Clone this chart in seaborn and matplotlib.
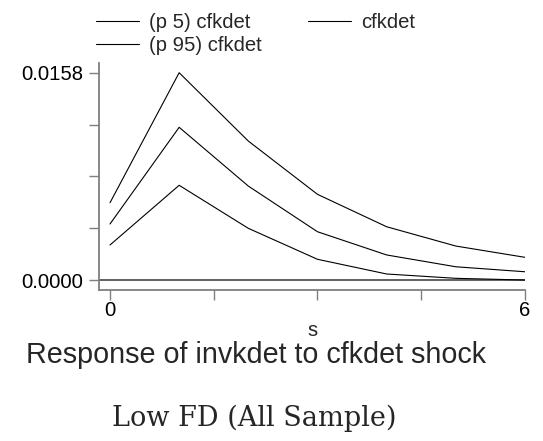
import matplotlib
matplotlib.use("Agg")
import matplotlib.pyplot as plt
import seaborn as sns
import pandas as pd

# Impulse response of invkdet to a cfkdet shock, steps 0..6
steps = [0, 1, 2, 3, 4, 5, 6]
irf_p5 = [0.00267, 0.00722, 0.00394, 0.00158, 0.00046, 0.00013, 0.00000]
irf_mid = [0.00427, 0.01164, 0.00716, 0.00368, 0.00191, 0.00101, 0.00063]
irf_p95 = [0.00589, 0.01580, 0.01059, 0.00653, 0.00406, 0.00259, 0.00173]

series_names = ["(p 5) cfkdet", "(p 95) cfkdet", "cfkdet"]
ytick_vals = [0.0, 0.0158]
ytick_labels = ["0.0000", "0.0158"]
xtick_vals = [0, 6]

df = pd.concat([
    pd.DataFrame({"s": steps, "value": irf_p5, "series": series_names[0]}),
    pd.DataFrame({"s": steps, "value": irf_p95, "series": series_names[1]}),
    pd.DataFrame({"s": steps, "value": irf_mid, "series": series_names[2]}),
])

sns.set_theme(style="white")
plt.rcParams["font.family"] = ["Liberation Sans", "DejaVu Sans"]

W, H = 543, 441
fig = plt.figure(figsize=(W / 100, H / 100), dpi=100)
ax = fig.add_axes([99 / W, 1 - 290 / H, (525 - 99) / W, (290 - 63) / H])

ax.axhline(0, color="#555555", lw=1.3, zorder=1)
sns.lineplot(data=df, x="s", y="value", hue="series", hue_order=series_names,
             palette=["black"] * 3, linewidth=0.8, ax=ax, legend=False, zorder=3)

ax.set_xlim(-0.159, 6)
ax.set_ylim(-0.00076, 0.01654)

ax.set_yticks([i * 0.0158 / 4 for i in range(5)], minor=True)
ax.set_yticks(ytick_vals)
ax.set_yticklabels(ytick_labels)
ax.set_xticks([0, 1.5, 3, 4.5, 6], minor=True)
ax.set_xticks(xtick_vals)
ax.set_xticklabels([str(v) for v in xtick_vals])

spine_col = "#7f7f7f"
for side in ["top", "right"]:
    ax.spines[side].set_visible(False)
for side in ["left", "bottom"]:
    ax.spines[side].set_color(spine_col)
    ax.spines[side].set_linewidth(1.3)
ax.tick_params(which="both", direction="out", length=7, width=1.0, color=spine_col,
               left=True, bottom=True, labelsize=14.6, labelcolor="black")
ax.tick_params(axis="y", pad=4.5)
ax.tick_params(axis="x", pad=1.0)

ax.set_xlabel("s", fontsize=14.6, labelpad=0.5)
ax.set_ylabel("")

handles = [plt.Line2D([], [], color="black", lw=0.8) for _ in series_names]
fig.legend(handles, series_names, loc="upper left", ncol=2, frameon=False,
           bbox_to_anchor=(96 / W, 1 - 13 / H), fontsize=14.6, handlelength=2.1,
           handletextpad=0.5, columnspacing=2.3, labelspacing=0.18, borderpad=0,
           borderaxespad=0)

fig.text(255.5 / W, 1 - 355 / H, "Response of invkdet to cfkdet shock",
         ha="center", va="center", fontsize=20.7)
fig.text(254.5 / W, 1 - 418 / H, "Low FD (All Sample)", ha="center", va="center",
         fontsize=19.5, family=["DejaVu Serif", "Liberation Serif"])

fig.savefig("out.png", dpi=100)
